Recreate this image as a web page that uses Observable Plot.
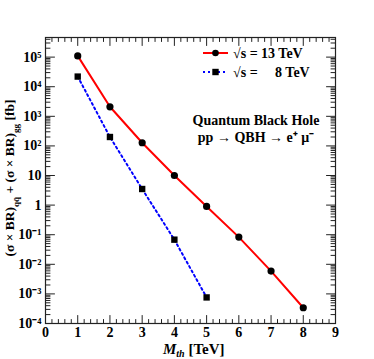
<!DOCTYPE html>
<html><head><meta charset="utf-8">
<script src="https://cdn.jsdelivr.net/npm/d3@7"></script>
<script src="https://cdn.jsdelivr.net/npm/@observablehq/plot@0.6"></script>
<style>body{margin:0;background:#fff}</style>
</head><body><div id="chart"></div>
<script>
// Data
const mass13 = [1, 2, 3, 4, 5, 6, 7, 8];
const xsec13 = [1.1e5, 2100, 128, 10, 0.9, 0.083, 0.0059, 3.4e-4];
const mass8 = [1, 2, 3, 4, 5];
const xsec8 = [2.2e4, 200, 3.5, 0.068, 7.6e-4];
const xTicks = [0, 1, 2, 3, 4, 5, 6, 7, 8, 9];
const yTicks = [1e-4, 1e-3, 1e-2, 1e-1, 1, 10, 1e2, 1e3, 1e4, 1e5];
const yTickLabels = ["10\u207B\u2074", "10\u207B\u00B3", "10\u207B\u00B2", "10\u207B\u00B9", "1", "10", "10\u00B2", "10\u00B3", "10\u2074", "10\u2075"];
const legendLabels = ["\u221As = 13 TeV", "\u221As = \u2007\u20078 TeV"];
const annotation = ["Quantum Black Hole", "pp \u2192 QBH \u2192 e\u207A \u03BC\u207B"];

const W = 374, H = 359;
const mL = 45, mR = 39, mT = 37, mB = 36;
const yMin = 1e-4, yMax = 4.6e5, xMin = 0, xMax = 9;
const font = "'Liberation Serif', 'Times New Roman', serif";

const s13 = mass13.map((m, i) => ({m, v: xsec13[i]}));
const s8 = mass8.map((m, i) => ({m, v: xsec8[i]}));

const xMinor = [];
for (let i = 0; i <= 45; i++) if (i % 5) xMinor.push(i / 5);
const yMinor = [];
for (let e = -4; e <= 5; e++) for (let k = 2; k <= 9; k++) { const v = k * Math.pow(10, e); if (v < yMax) yMinor.push(v); }

const tickShape = {draw(ctx, l) { ctx.moveTo(0, 0); ctx.lineTo(0, -l); }};
function tk(data, o) {
  return Plot.vector(data, {...o, shape: tickShape, anchor: "start", stroke: "#222", strokeWidth: 1});
}

const plot = Plot.plot({
  width: W, height: H,
  marginLeft: mL, marginRight: mR, marginTop: mT, marginBottom: mB,
  style: {fontFamily: font, fontSize: "14px", fontWeight: "bold", background: "#fff", color: "#000"},
  x: {domain: [xMin, xMax], label: null},
  y: {type: "log", domain: [yMin, yMax], label: null},
  marks: [
    Plot.frame({stroke: "#222", strokeWidth: 1.2}),
    tk(xTicks, {x: d => d, y: () => yMin, length: 8, rotate: 0}),
    tk(xMinor, {x: d => d, y: () => yMin, length: 4, rotate: 0}),
    tk(xTicks, {x: d => d, y: () => yMax, length: 8, rotate: 180}),
    tk(xMinor, {x: d => d, y: () => yMax, length: 4, rotate: 180}),
    tk(yTicks, {x: () => xMin, y: d => d, length: 9, rotate: 90}),
    tk(yMinor, {x: () => xMin, y: d => d, length: 4.5, rotate: 90}),
    tk(yTicks, {x: () => xMax, y: d => d, length: 9, rotate: -90}),
    tk(yMinor, {x: () => xMax, y: d => d, length: 4.5, rotate: -90}),
    Plot.axisX(xTicks, {anchor: "bottom", tickSize: 0, tickPadding: 4, tickFormat: d => String(d), label: null, fontSize: 14, fontWeight: "bold"}),
    Plot.axisY(yTicks, {anchor: "left", tickSize: 0, tickPadding: 4, tickFormat: d => yTickLabels[yTicks.indexOf(d)], label: null, fontSize: 14, fontWeight: "bold"}),
    Plot.line(s8, {x: "m", y: "v", stroke: "#0000ff", strokeWidth: 2, strokeDasharray: "2,3"}),
    Plot.line(s13, {x: "m", y: "v", stroke: "#ff0000", strokeWidth: 2}),
    Plot.dot(s8, {x: "m", y: "v", symbol: "square", r: 3.6, fill: "#000"}),
    Plot.dot(s13, {x: "m", y: "v", r: 3.6, fill: "#000"})
  ]
});
document.getElementById("chart").appendChild(plot);

const svg = d3.select(plot);
const g = svg.append("g").attr("font-family", font).attr("font-weight", "bold").attr("fill", "#000").attr("text-anchor", "start");

// Legend
const legendRows = [
  {y: 53, color: "#ff0000", dash: null, sym: "circle", label: legendLabels[0]},
  {y: 72, color: "#0000ff", dash: "2,3", sym: "square", label: legendLabels[1]}
];
legendRows.forEach(r => {
  g.append("line").attr("x1", 203).attr("x2", 228).attr("y1", r.y).attr("y2", r.y)
    .attr("stroke", r.color).attr("stroke-width", 2).attr("stroke-dasharray", r.dash);
  if (r.sym === "circle") g.append("circle").attr("cx", 215.5).attr("cy", r.y).attr("r", 3.3).attr("fill", "#000");
  else g.append("rect").attr("x", 212.3).attr("y", r.y - 3.2).attr("width", 6.4).attr("height", 6.4).attr("fill", "#000");
  g.append("text").attr("x", 233).attr("y", r.y + 5).attr("font-size", 14).style("white-space", "pre").text(r.label);
});

// Annotation
g.append("text").attr("x", 256).attr("y", 125).attr("text-anchor", "middle").attr("font-size", 14).text(annotation[0]);
g.append("text").attr("x", 256).attr("y", 142).attr("text-anchor", "middle").attr("font-size", 14).text(annotation[1]);

// X axis label
const xl = g.append("text").attr("x", 163).attr("y", 354).attr("font-size", 15);
xl.append("tspan").attr("font-style", "italic").text("M");
xl.append("tspan").attr("font-style", "italic").attr("font-size", 10).attr("dy", 3).text("th");
xl.append("tspan").attr("dy", -3).text(" [TeV]");

// Y axis label
const yl = g.append("text").attr("transform", "translate(14,178) rotate(-90)").attr("text-anchor", "middle").attr("font-size", 13.5);
yl.append("tspan").text("(\u03C3 \u00D7 BR)");
yl.append("tspan").attr("font-size", 9).attr("dy", 5).text("q\u0071\u0304");
yl.append("tspan").attr("dy", -5).text(" + (\u03C3 \u00D7 BR)");
yl.append("tspan").attr("font-size", 9).attr("dy", 5).text("gg");
yl.append("tspan").attr("dy", -5).text(" [fb]");
</script>
</body></html>
